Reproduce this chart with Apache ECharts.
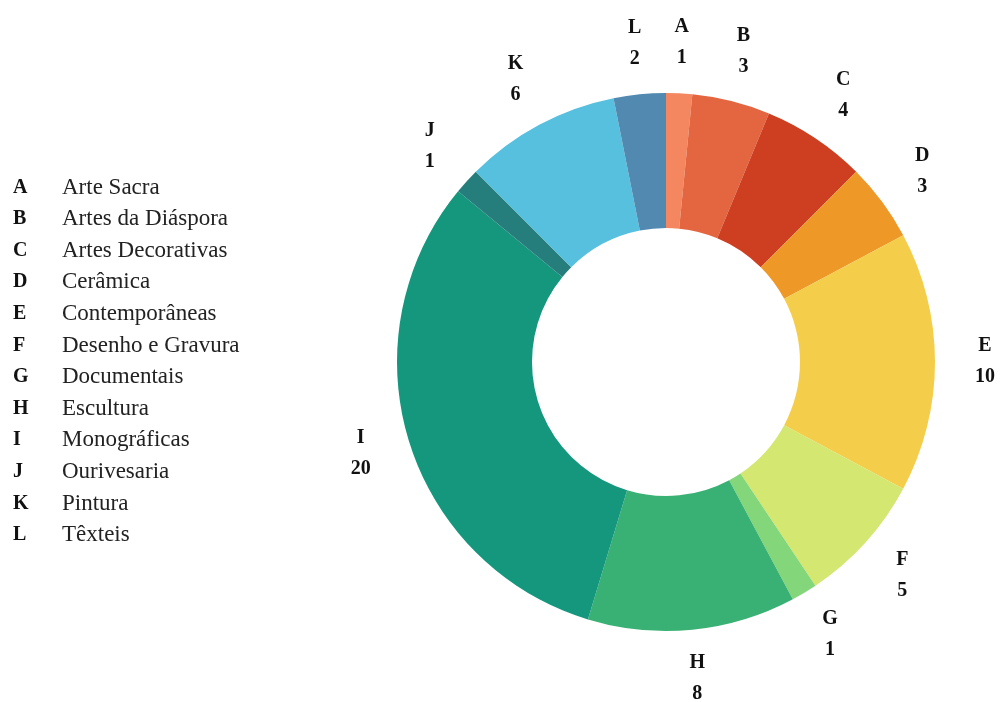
<!DOCTYPE html>
<html>
<head>
<meta charset="utf-8">
<script src="https://cdn.jsdelivr.net/npm/echarts@6/dist/echarts.min.js"></script>
<style>
  html, body { margin: 0; padding: 0; background: #ffffff; }
  #chart { width: 1000px; height: 702px; }
</style>
</head>
<body>
<div id="chart"></div>
<script>
// Collection categories: short code, full name, count, colour
const codes = ['A', 'B', 'C', 'D', 'E', 'F', 'G', 'H', 'I', 'J', 'K', 'L'];
const names = ['Arte Sacra', 'Artes da Diáspora', 'Artes Decorativas', 'Cerâmica',
  'Contemporâneas', 'Desenho e Gravura', 'Documentais', 'Escultura',
  'Monográficas', 'Ourivesaria', 'Pintura', 'Têxteis'];
const counts = [1, 3, 4, 3, 10, 5, 1, 8, 20, 1, 6, 2];
const colors = ['#F4875F', '#E46641', '#CD3F20', '#EE9828', '#F4CE4A', '#D3E771',
  '#84D67B', '#3AB174', '#15977E', '#267E7C', '#56C0DE', '#5289B1'];

const fullName = {};
codes.forEach((c, i) => { fullName[c] = names[i]; });

const pieData = codes.map((c, i) => ({ name: c, value: counts[i], itemStyle: { color: colors[i] } }));

const serif = '"Liberation Serif", "Times New Roman", serif';
const chart = echarts.init(document.getElementById('chart'), null, { renderer: 'canvas' });

chart.setOption({
  backgroundColor: '#ffffff',
  animation: false,
  legend: {
    orient: 'vertical',
    left: 3,
    top: 171,
    itemWidth: 0,
    itemHeight: 0,
    itemGap: 8.6,
    itemStyle: { opacity: 0 },
    selectedMode: false,
    data: codes,
    formatter: (n) => '{c|' + n + '}{n|' + fullName[n] + '}',
    textStyle: {
      rich: {
        c: { fontFamily: serif, fontWeight: 'bold', fontSize: 20, color: '#111', width: 49 },
        n: { fontFamily: serif, fontSize: 23, color: '#222' }
      }
    }
  },
  series: [
    {
      type: 'pie',
      center: [666, 362],
      radius: [134, 269],
      startAngle: 90,
      clockwise: true,
      avoidLabelOverlap: false,
      label: { show: false },
      labelLine: { show: false },
      emphasis: { disabled: true },
      data: pieData
    },
    {
      // transparent ring that carries the centred code/value labels
      type: 'pie',
      center: [666, 361],
      radius: [286, 346],
      startAngle: 90,
      clockwise: true,
      silent: true,
      avoidLabelOverlap: false,
      itemStyle: { color: 'rgba(0,0,0,0)' },
      label: {
        show: true,
        position: 'inside',
        formatter: (p) => p.name + '\n' + p.value,
        fontFamily: serif,
        fontWeight: 'bold',
        fontSize: 20,
        lineHeight: 31,
        color: '#111'
      },
      labelLine: { show: false },
      emphasis: { disabled: true },
      data: codes.map((c, i) => ({ name: c, value: counts[i] }))
    }
  ]
});
</script>
</body>
</html>
